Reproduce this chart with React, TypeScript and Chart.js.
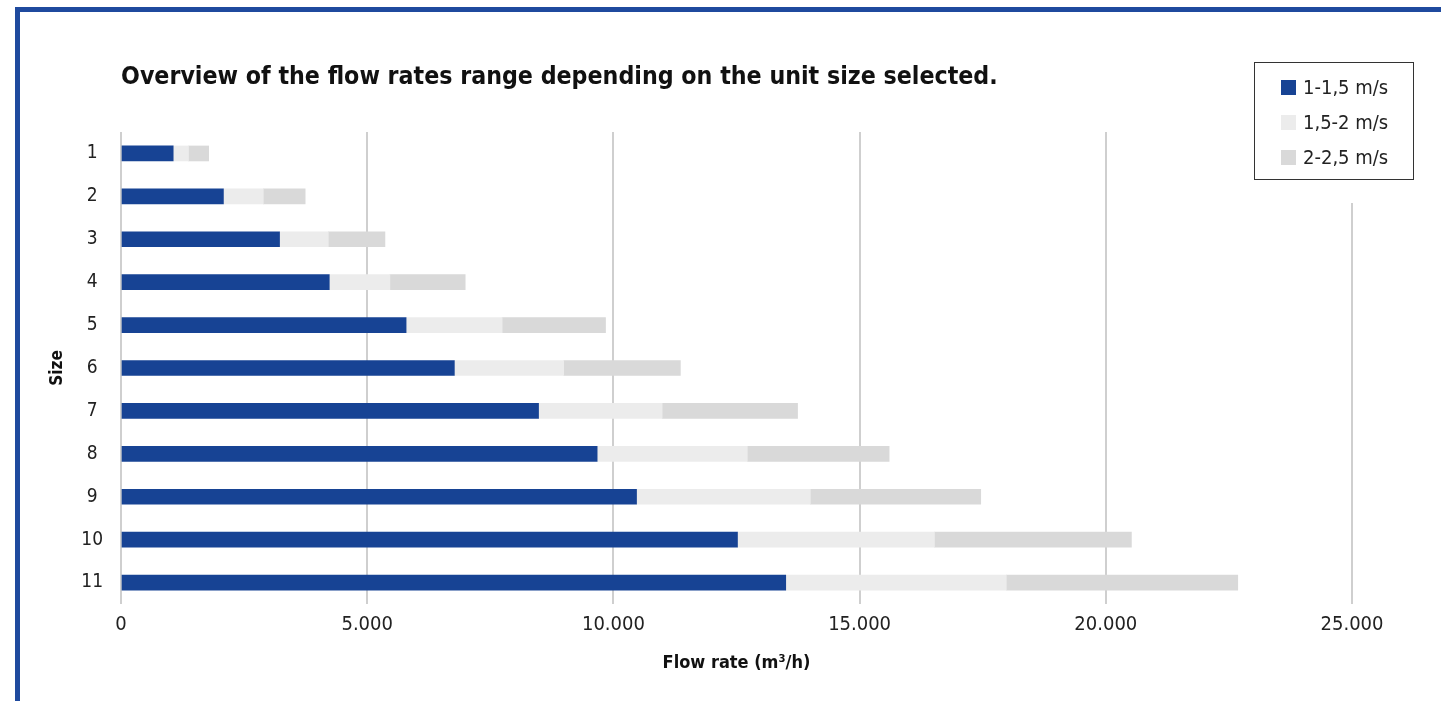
import React, { useEffect, useRef } from "react";
import { Chart, registerables } from "chart.js";

Chart.register(...registerables);

const sizes = ["1", "2", "3", "4", "5", "6", "7", "8", "9", "10", "11"];
const speed1 = [1060, 2080, 3220, 4230, 5790, 6770, 8480, 9670, 10470, 12520, 13500];
const speed2 = [310, 810, 990, 1230, 1950, 2220, 2510, 3050, 3530, 4000, 4480];
const speed3 = [410, 850, 1150, 1530, 2100, 2370, 2750, 2880, 3460, 4000, 4700];
const seriesNames = ["1-1,5 m/s", "1,5-2 m/s", "2-2,5 m/s"];
const seriesColors = ["#174394", "#ececec", "#d9d9d9"];
const xTicks = { min: 0, max: 25000, step: 5000 };

const titleText = "Overview of the flow rates range depending on the unit size selected.";
const xTitle = "Flow rate (m³/h)";
const yTitle = "Size";

const FONT = "'DejaVu Sans Condensed', 'Liberation Sans Narrow', sans-serif";

function fmt(v: number): string {
  const s = Math.round(v).toString();
  return s.replace(/\B(?=(\d{3})+(?!\d))/g, ".");
}

export default function App() {
  const ref = useRef<HTMLCanvasElement | null>(null);

  useEffect(() => {
    if (!ref.current) return;
    const chart = new Chart(ref.current, {
      type: "bar",
      data: {
        labels: sizes,
        datasets: [speed1, speed2, speed3].map((d, i) => ({
          label: seriesNames[i],
          data: d,
          backgroundColor: seriesColors[i],
          borderWidth: 0,
          barThickness: 15,
        })),
      },
      options: {
        indexAxis: "y",
        responsive: false,
        animation: false,
        devicePixelRatio: 1,
        layout: { padding: { left: 40, top: 132, right: 89, bottom: 17 } },
        plugins: {
          legend: { display: false },
          title: { display: false },
          tooltip: { enabled: false },
        },
        scales: {
          x: {
            stacked: true,
            min: xTicks.min,
            max: xTicks.max,
            border: { display: false },
            grid: { color: "#cfcfcf", lineWidth: 2, drawTicks: false },
            ticks: {
              stepSize: xTicks.step,
              padding: 9,
              color: "#222",
              font: { family: FONT, size: 20 },
              callback: (v: any) => fmt(Number(v)),
            },
            title: {
              display: true,
              text: xTitle,
              color: "#111",
              font: { family: FONT, size: 18, weight: "bold" },
              padding: { top: 4, bottom: 10 },
            },
            afterFit: (s: any) => {
              s.height = 80;
            },
          },
          y: {
            stacked: true,
            border: { display: false },
            grid: { display: false, drawTicks: false },
            ticks: {
              padding: 18,
              crossAlign: "center",
              color: "#222",
              font: { family: FONT, size: 19 },
            },
            title: {
              display: true,
              text: yTitle,
              color: "#111",
              font: { family: FONT, size: 17, weight: "bold" },
              padding: { top: 7, bottom: 4 },
            },
            afterFit: (s: any) => {
              s.width = 81;
            },
          },
        },
      },
    });
    return () => chart.destroy();
  }, []);

  return (
    <div style={{ position: "absolute", left: 0, top: 0, width: 1441, height: 701, overflow: "hidden", background: "#fff" }}>
      <canvas ref={ref} width={1441} height={701} style={{ position: "absolute", left: 0, top: 0 }} />
      <div
        style={{
          position: "absolute",
          left: 15,
          top: 7,
          right: 0,
          bottom: 0,
          borderTop: "5px solid #1f4a9e",
          borderLeft: "5px solid #1f4a9e",
          pointerEvents: "none",
        }}
      />
      <div
        style={{
          position: "absolute",
          left: 121,
          top: 61,
          fontFamily: FONT,
          fontWeight: "bold",
          fontSize: 24.7,
          lineHeight: "30px",
          color: "#111",
          whiteSpace: "nowrap",
        }}
      >
        {titleText}
      </div>
      <div style={{ position: "absolute", left: 1248, top: 55, width: 172, height: 148, background: "#fff" }}>
        <div
          style={{
            position: "absolute",
            left: 6,
            top: 7,
            width: 158,
            height: 116,
            border: "1px solid #333",
            background: "#fff",
          }}
        >
          {seriesNames.map((n, i) => (
            <div
              key={n}
              style={{ position: "absolute", left: 26, top: 14 + i * 35, height: 20, display: "flex", alignItems: "center" }}
            >
              <div style={{ width: 15, height: 15, background: seriesColors[i], marginRight: 7 }} />
              <span style={{ fontFamily: FONT, fontSize: 20, color: "#222", lineHeight: "20px", whiteSpace: "nowrap" }}>{n}</span>
            </div>
          ))}
        </div>
      </div>
    </div>
  );
}
